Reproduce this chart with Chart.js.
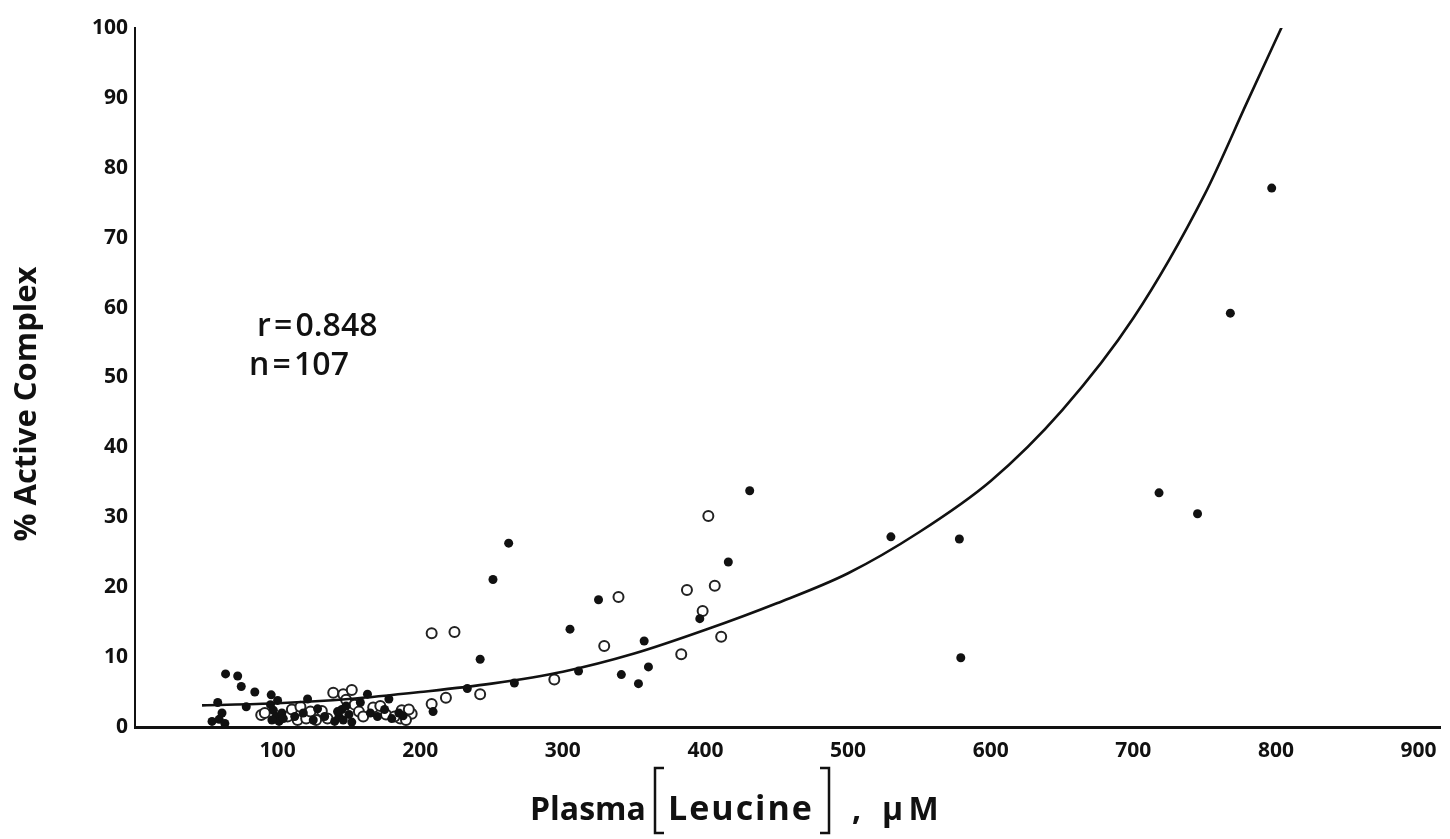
<!DOCTYPE html>
<html>
<head>
<meta charset="utf-8">
<script src="https://cdn.jsdelivr.net/npm/chart.js@4/dist/chart.umd.min.js"></script>
<style>
html,body{margin:0;padding:0;background:#fff;}
#wrap{width:1450px;height:839px;position:relative;}
</style>
</head>
<body>
<div id="wrap"><canvas id="c" width="1450" height="839"></canvas></div>
<script>
// ---- data ----
const xTickValues = [100,200,300,400,500,600,700,800,900];
const yTickValues = [0,10,20,30,40,50,60,70,80,90,100];

// filled dots [x, y]
const filledPoints = [
  [797,77.1],[768,59.2],[718,33.5],[745,30.5],[578,26.9],[530,27.2],[579,9.9],
  [431,33.8],[416,23.6],[396,15.5],[325,18.2],[305,14.0],[357,12.3],[341,7.5],
  [360,8.6],[353,6.2],[311,8.0],[266,6.3],[242,9.7],[251,21.1],[262,26.3],
  [233,5.5],[209,2.2],
  [63.5,7.6],[72,7.3],[74.5,5.8],[84,5.0],[95.5,4.6],[58,3.5],[78,2.9],[54,0.8],
  [59,1.1],[63,0.5],[61,2.0],
  [95,3.2],[97,2.4],[99,1.5],[101,0.8],[96,1.0],[103,2.0],[100,3.8],[104,1.2],
  [112,1.5],[118,2.0],[121,4.0],[125,1.0],[128,2.6],[133,1.5],
  [140,0.8],[143,1.5],[145,2.5],[146,1.0],[148,3.0],[150,1.8],[152,0.7],[142,2.2],
  [158,3.5],[163,4.7],[165,2.0],[170,1.5],[175,2.5],[178,4.0],[180,1.2],[185,2.0],[188,1.6]
];

// open circles [x, y]
const openPoints = [
  [398,16.6],[406.5,20.2],[387,19.6],[411,12.9],[383,10.4],[402,30.2],[339,18.6],
  [329,11.6],[294,6.8],[242,4.7],[208,13.4],[224,13.6],[218,4.2],[208,3.3],
  [194,1.9],[187,2.4],[186,1.2],
  [88.5,1.7],[91,2.0],[107,1.5],[110,2.5],[114,1.0],[116,2.9],[120,1.2],[123,2.2],
  [127,1.0],[131,2.3],[135,1.2],[139,4.9],[146,4.7],[148,3.9],[152,5.3],[154,3.2],
  [157,2.2],[160,1.5],[167,2.8],[172,3.0],[176,1.8],[182,1.5],[190,1.0],[192,2.5]
];

// fitted curve
const curveX = [47,100,150,200,250,300,350,400,450,500,550,600,650,700,750,780,806];
const curveY = [3.1,3.4,4.0,5.0,6.2,7.9,10.5,13.9,17.7,22.0,27.9,35.2,45.3,58.5,76.2,89.5,101.0];

const statR = 'r\u200A=\u200A0.848';
const statN = 'n\u200A=\u200A107';
const yTitle = '% Active Complex';

// ---- build ----
const toXY = arr => arr.map(p => ({x:p[0], y:p[1]}));
const curveData = curveX.map((x,i)=>({x:x, y:curveY[i]}));

const FONT = '"Open Sans", "DejaVu Sans", sans-serif';

function bracket(ctx, x, dir){
  ctx.beginPath();
  ctx.moveTo(x + dir*9, 768); ctx.lineTo(x, 768); ctx.lineTo(x, 833); ctx.lineTo(x + dir*9, 833);
  ctx.stroke();
}

const overlay = {
  id:'overlay',
  afterDraw(chart){
    const ctx = chart.ctx;
    ctx.save();
    ctx.fillStyle = '#111';
    // stat text
    ctx.font = '600 32px ' + FONT;
    ctx.textBaseline = 'middle';
    ctx.textAlign = 'left';
    ctx.fillText(statR, 257, 327);
    ctx.fillText(statN, 249, 366);
    // y title
    ctx.save();
    ctx.translate(27, 404);
    ctx.rotate(-Math.PI/2);
    ctx.textAlign = 'center';
    ctx.font = 'bold 31px ' + FONT;
    ctx.fillText(yTitle, 0, 0);
    ctx.restore();
    // x title with tall brackets
    ctx.font = 'bold 32px ' + FONT;
    ctx.textBaseline = 'alphabetic';
    const baseY = 820;
    ctx.strokeStyle = '#111';
    ctx.lineWidth = 2.5;
    ctx.fillText('Plasma', 530, baseY);
    bracket(ctx, 655, 1);
    ctx.font = 'bold 34px ' + FONT;
    if ('letterSpacing' in ctx) ctx.letterSpacing = '2px';
    ctx.fillText('Leucine', 668, baseY);
    if ('letterSpacing' in ctx) ctx.letterSpacing = '0px';
    ctx.font = 'bold 32px ' + FONT;
    bracket(ctx, 829, -1);
    ctx.fillText(',', 852, baseY);
    ctx.fillText('\u03BC\u2009M', 882, baseY);
    ctx.restore();
  }
};

new Chart(document.getElementById('c'), {
  type:'scatter',
  data:{
    datasets:[
      {
        label:'curve', type:'line', data:curveData,
        borderColor:'#111', borderWidth:2.6, pointRadius:0,
        cubicInterpolationMode:'monotone', fill:false, order:0
      },
      {
        label:'filled', data:toXY(filledPoints),
        pointRadius:4.5, pointBackgroundColor:'#111', pointBorderColor:'#111',
        pointBorderWidth:0, order:1
      },
      {
        label:'open', data:toXY(openPoints),
        pointRadius:5, pointBackgroundColor:'#fff', pointBorderColor:'#222',
        pointBorderWidth:2, order:2
      }
    ]
  },
  options:{
    responsive:false, animation:false,
    layout:{padding:{left:0,right:10,top:28,bottom:0}},
    plugins:{legend:{display:false}, tooltip:{enabled:false}},
    scales:{
      x:{
        type:'linear', min:0, max:915,
        grid:{display:false, drawTicks:false},
        border:{display:true, color:'#111', width:3},
        afterBuildTicks(s){ s.ticks = xTickValues.map(v=>({value:v})); },
        ticks:{color:'#111', font:{family:FONT, size:21, weight:'bold'}, padding:11, maxRotation:0},
        afterFit(s){ s.height = 112; }
      },
      y:{
        type:'linear', min:0, max:100,
        grid:{display:false, drawTicks:false},
        border:{display:true, color:'#111', width:2},
        afterBuildTicks(s){ s.ticks = yTickValues.map(v=>({value:v})); },
        ticks:{color:'#111', font:{family:FONT, size:21, weight:'bold'}, padding:7},
        afterFit(s){ s.width = 135; }
      }
    }
  },
  plugins:[overlay]
});
</script>
</body>
</html>
